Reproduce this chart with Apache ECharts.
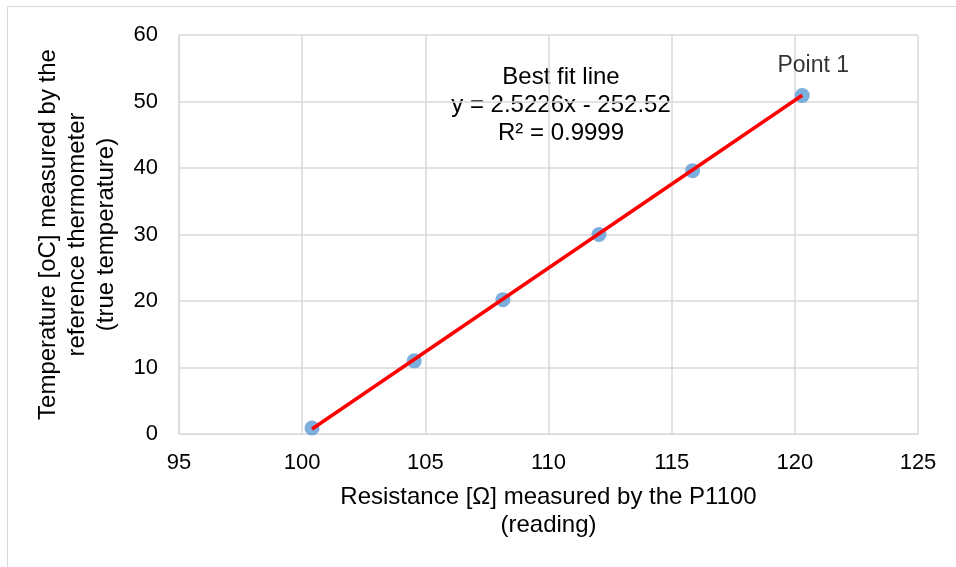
<!DOCTYPE html>
<html lang="en" style="height: 100%">
<head>
  <meta charset="utf-8">
</head>
<body style="height: 100%; margin: 0; background: #fff">
  <div id="container" style="width: 956px; height: 567px"></div>

  <script type="text/javascript" src="https://cdn.jsdelivr.net/npm/echarts@6/dist/echarts.min.js"></script>
  <script type="text/javascript">
    // readings
    var resistance = [100.4, 104.55, 108.15, 112.05, 115.85, 120.3];
    var temperature = [0.9, 11.0, 20.2, 30.0, 39.6, 50.9];
    // fit line end points (x, y)
    var fitX = [100.4, 120.3];
    var fitY = [0.75, 50.95];
    var xTitle = 'Resistance [Ω] measured by the P1100\n(reading)';
    var yTitle = 'Temperature [oC] measured by the\nreference thermometer\n(true temperature)';
    var fitText = 'Best fit line\ny = 2.5226x - 252.52\nR² = 0.9999';

    var dom = document.getElementById('container');
    var myChart = echarts.init(dom, null, { renderer: 'canvas' });

    var pts = resistance.map(function (x, i) { return [x, temperature[i]]; });
    var fit = fitX.map(function (x, i) { return [x, fitY[i]]; });
    var font = 'Liberation Sans, Arial, sans-serif';
    var gridCol = '#d9d9d9';

    var option = {
      animation: false,
      textStyle: { fontFamily: font },
      graphic: [{
        type: 'rect',
        shape: { x: 7.5, y: 6.5, width: 1000, height: 600 },
        style: { fill: null, stroke: gridCol, lineWidth: 1 },
        silent: true
      }, {
        type: 'text',
        x: 561, y: 63,
        style: {
          text: fitText, fill: '#000', font: '24px ' + font,
          align: 'center', verticalAlign: 'top', lineHeight: 28
        }
      }],
      grid: { left: 179, right: 38, top: 35, bottom: 133, outerBoundsMode: 'none' },
      xAxis: {
        type: 'value', min: 95, max: 125, interval: 5,
        name: xTitle, nameLocation: 'middle', nameGap: 49,
        nameTextStyle: { fontSize: 24, color: '#000', lineHeight: 28 },
        axisLine: { show: true, lineStyle: { color: gridCol } },
        axisTick: { show: false },
        axisLabel: { fontSize: 22, color: '#000', margin: 18 },
        splitLine: { show: true, lineStyle: { color: gridCol, width: 1.5 } }
      },
      yAxis: {
        type: 'value', min: 0, max: 60, interval: 10,
        name: yTitle, nameLocation: 'middle', nameGap: 58,
        nameTextStyle: { fontSize: 24, color: '#000', lineHeight: 29 },
        axisLine: { show: true, lineStyle: { color: gridCol } },
        axisTick: { show: false },
        axisLabel: { fontSize: 22, color: '#000', margin: 21 },
        splitLine: { show: true, lineStyle: { color: gridCol, width: 1.5 } }
      },
      series: [{
        type: 'scatter',
        data: pts,
        symbolSize: 15,
        itemStyle: { color: '#5b9bd5' },
        label: {
          show: true, position: 'top', distance: 11, offset: [11, 0],
          fontSize: 23, color: '#000',
          formatter: function (p) { return p.dataIndex === pts.length - 1 ? 'Point 1' : ''; }
        },
        z: 2
      }, {
        type: 'line',
        data: fit,
        symbol: 'none',
        lineStyle: { color: '#ff0000', width: 3.5 },
        z: 3
      }]
    };

    myChart.setOption(option);
    window.addEventListener('resize', myChart.resize);
  </script>
</body>
</html>
